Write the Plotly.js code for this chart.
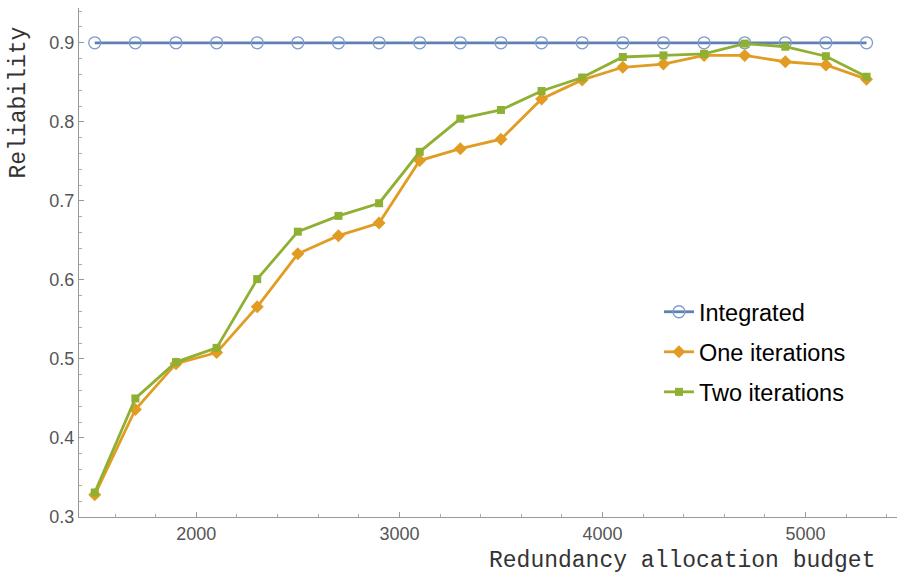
<!DOCTYPE html>
<html>
<head>
<meta charset="utf-8">
<script src="https://cdn.plot.ly/plotly-3.0.1.min.js"></script>
<style>html,body{margin:0;padding:0;background:#fff;}#chart{width:899px;height:575px;}</style>
</head>
<body>
<div id="chart"></div>
<script>
const budget = [1500,1700,1900,2100,2300,2500,2700,2900,3100,3300,3500,3700,3900,4100,4300,4500,4700,4900,5100,5300];
const integrated = [0.9,0.9,0.9,0.9,0.9,0.9,0.9,0.9,0.9,0.9,0.9,0.9,0.9,0.9,0.9,0.9,0.9,0.9,0.9,0.9];
const oneIter = [0.328,0.436,0.494,0.508,0.566,0.633,0.656,0.672,0.751,0.766,0.778,0.829,0.853,0.869,0.873,0.884,0.884,0.876,0.872,0.854];
const twoIter = [0.331,0.450,0.496,0.514,0.601,0.661,0.681,0.697,0.762,0.804,0.815,0.839,0.856,0.882,0.884,0.886,0.899,0.895,0.883,0.857];
const seriesNames = ["Integrated","One iterations","Two iterations"];
const xTitle = "Redundancy allocation budget";
const yTitle = "Reliability";

const traces = [
  {x: budget, y: integrated, name: seriesNames[0], type: "scatter", mode: "lines+markers", legendgroup: "a",
   line: {color: "#5E81B5", width: 2.8},
   marker: {symbol: "circle-open", size: 12, color: "#7E9CCB", line: {width: 1.3, color: "#7E9CCB"}}},
  {x: budget, y: oneIter, name: seriesNames[1], type: "scatter", mode: "lines+markers", legendgroup: "b",
   line: {color: "#E19C24", width: 2.8},
   marker: {symbol: "diamond", size: 10, color: "#E19C24"}},
  {x: budget, y: twoIter, name: seriesNames[2], type: "scatter", mode: "lines+markers", legendgroup: "c",
   line: {color: "#8FB032", width: 2.8},
   marker: {symbol: "square", size: 8, color: "#8FB032"}}
];

const axisFont = {family: "Liberation Sans, Arial, sans-serif", size: 18, color: "#555555"};
const layout = {
  width: 899, height: 575,
  margin: {l: 79, r: 2, t: 8, b: 58},
  paper_bgcolor: "#ffffff", plot_bgcolor: "#ffffff",
  showlegend: true,
  legend: {x: 0.709, y: 0.446, xanchor: "left", yanchor: "top", bgcolor: "rgba(0,0,0,0)",
    font: {family: "Liberation Sans, Arial, sans-serif", size: 23.5, color: "#000000"},
    tracegroupgap: 6.5, traceorder: "grouped", itemwidth: 30},
  xaxis: {range: [1422.5, 5450], showgrid: false, zeroline: false, showline: true, linecolor: "#999999", linewidth: 1,
    ticks: "inside", ticklen: 5, tickcolor: "#999999", tickvals: [2000,3000,4000,5000], ticktext: ["2000","3000","4000","5000"],
    tickfont: axisFont,
    minor: {dtick: 200, tick0: 0, ticks: "inside", ticklen: 3, tickcolor: "#aaaaaa"}},
  yaxis: {range: [0.3, 0.944], showgrid: false, zeroline: false, showline: true, linecolor: "#999999", linewidth: 1,
    ticks: "inside", ticklen: 5, tickcolor: "#999999", tickvals: [0.3,0.4,0.5,0.6,0.7,0.8,0.9], ticktext: ["0.3","0.4","0.5","0.6","0.7","0.8","0.9"],
    tickfont: axisFont,
    minor: {dtick: 0.02, tick0: 0, ticks: "inside", ticklen: 3, tickcolor: "#aaaaaa"}},
  annotations: [
    {text: xTitle, xref: "paper", yref: "paper", x: 0.9756, y: -0.087, xanchor: "right", yanchor: "middle", showarrow: false,
     font: {family: "Liberation Mono, Courier New, monospace", size: 23, color: "#333333"}},
    {text: yTitle, xref: "paper", yref: "paper", x: -0.073, y: 0.815, xanchor: "center", yanchor: "middle", textangle: -90, showarrow: false,
     font: {family: "Liberation Mono, Courier New, monospace", size: 23, color: "#333333"}}
  ]
};
Plotly.newPlot("chart", traces, layout, {displayModeBar: false, staticPlot: true});
</script>
</body>
</html>
